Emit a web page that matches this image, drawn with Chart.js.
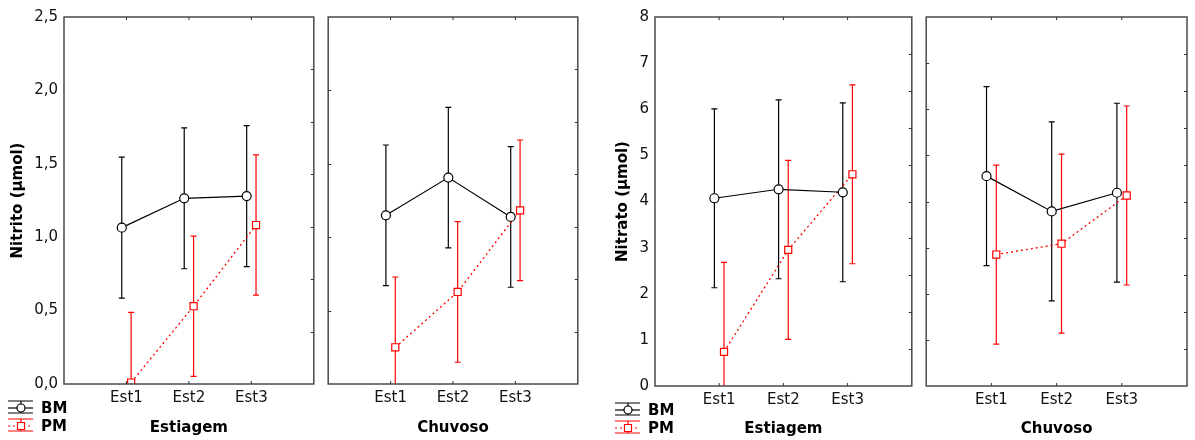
<!DOCTYPE html>
<html>
<head>
<meta charset="utf-8">
<script src="https://cdn.jsdelivr.net/npm/chart.js@4/dist/chart.umd.min.js"></script>
<style>
  body { margin: 0; background: #fff; }
  #wrap { position: relative; width: 1195px; height: 440px; overflow: hidden; }
  #wrap canvas { position: absolute; top: 0; }
</style>
</head>
<body>
<div id="wrap">
  <canvas id="p1" width="320" height="440" style="left:0px"></canvas>
  <canvas id="p2" width="262" height="440" style="left:322px"></canvas>
  <canvas id="p3" width="312" height="440" style="left:606px"></canvas>
  <canvas id="p4" width="275" height="440" style="left:920px"></canvas>
</div>
<script>
// categorias (estações de coleta)
const categories = ['Est1', 'Est2', 'Est3'];
const seriesNames = ['BM', 'PM'];

// Nitrito - médias e meia-largura do intervalo de confiança
const nitritoEstiagemBM = [1.065, 1.265, 1.28];
const nitritoEstiagemBMci = [0.48, 0.48, 0.48];
const nitritoEstiagemPM = [0.01, 0.53, 1.083];
const nitritoEstiagemPMci = [0.478, 0.478, 0.478];
const nitritoChuvosoBM = [1.149, 1.406, 1.138];
const nitritoChuvosoBMci = [0.479, 0.479, 0.479];
const nitritoChuvosoPM = [0.25, 0.627, 1.183];
const nitritoChuvosoPMci = [0.479, 0.479, 0.479];

// Nitrato
const nitratoEstiagemBM = [4.07, 4.265, 4.2];
const nitratoEstiagemBMci = [1.94, 1.94, 1.94];
const nitratoEstiagemPM = [0.74, 2.95, 4.59];
const nitratoEstiagemPMci = [1.94, 1.94, 1.94];
const nitratoChuvosoBM = [4.55, 3.785, 4.19];
const nitratoChuvosoBMci = [1.94, 1.94, 1.94];
const nitratoChuvosoPM = [2.85, 3.085, 4.13];
const nitratoChuvosoPMci = [1.94, 1.94, 1.94];

const FONT = 'DejaVu Sans, Verdana, sans-serif';
const BLACK = '#000000';
const RED = '#ff0000';
const SHIFT = 0.075; // deslocamento lateral de cada série

function toPoints(values, shift) {
  return values.map((v, i) => ({ x: i + 1 + shift, y: v }));
}

// barras de erro + moldura com ticks internos + legenda
const statPlugin = {
  id: 'stat',
  beforeDatasetsDraw(chart) {
    const { ctx, chartArea: a, scales: { x, y } } = chart;
    ctx.save();
    ctx.beginPath();
    ctx.rect(a.left, a.top, a.right - a.left, a.bottom - a.top);
    ctx.clip();
    chart.data.datasets.forEach(ds => {
      ctx.strokeStyle = ds.borderColor;
      ctx.lineWidth = 1.2;
      ds.data.forEach((p, i) => {
        const px = x.getPixelForValue(p.x);
        const top = y.getPixelForValue(p.y + ds.errors[i]);
        const bot = y.getPixelForValue(p.y - ds.errors[i]);
        ctx.beginPath();
        ctx.moveTo(px, top); ctx.lineTo(px, bot);
        ctx.moveTo(px - 3, top); ctx.lineTo(px + 3, top);
        ctx.moveTo(px - 3, bot); ctx.lineTo(px + 3, bot);
        ctx.stroke();
      });
    });
    ctx.restore();
  },
  afterDraw(chart, args, opts) {
    const { ctx, chartArea: a, scales: { x, y } } = chart;
    ctx.save();
    ctx.strokeStyle = '#4a4a4a';
    ctx.lineWidth = 1.5;
    ctx.strokeRect(a.left, a.top, a.right - a.left, a.bottom - a.top);

    ctx.lineWidth = 1;
    ctx.strokeStyle = '#333';
    ctx.beginPath();
    categories.forEach((c, i) => {
      const px = x.getPixelForValue(i + 1);
      ctx.moveTo(px, a.top); ctx.lineTo(px, a.top + 3);
      ctx.moveTo(px, a.bottom); ctx.lineTo(px, a.bottom - 3);
    });
    // ticks do lado direito
    const n = opts.rightTicks;
    for (let k = 1; k < n; k++) {
      const py = Math.round(y.getPixelForValue(y.min + k * (y.max - y.min) / n)) + 0.5;
      ctx.moveTo(a.right, py); ctx.lineTo(a.right - 3, py);
    }
    // ticks do lado esquerdo (painel sem rótulos)
    if (opts.leftTicks) {
      for (let v = y.min + opts.step; v < y.max - 1e-9; v += opts.step) {
        const py = Math.round(y.getPixelForValue(v)) + 0.5;
        ctx.moveTo(a.left, py); ctx.lineTo(a.left + 3, py);
      }
    }
    ctx.stroke();

    if (opts.legend) {
      const lx = opts.legend.x, ly = opts.legend.y;
      const items = [
        { name: seriesNames[0], color: BLACK, dash: [], cy: ly, shape: 'circle' },
        { name: seriesNames[1], color: RED, dash: [2, 3], cy: ly + 18, shape: 'square' }
      ];
      items.forEach(it => {
        const cx = lx + 13;
        ctx.strokeStyle = it.color;
        ctx.lineWidth = 1.2;
        ctx.setLineDash([]);
        ctx.beginPath();
        ctx.moveTo(lx, it.cy - 7); ctx.lineTo(lx + 25, it.cy - 7);
        ctx.moveTo(lx, it.cy + 5); ctx.lineTo(lx + 25, it.cy + 5);
        ctx.moveTo(cx, it.cy - 7); ctx.lineTo(cx, it.cy + 5);
        ctx.stroke();
        ctx.setLineDash(it.dash);
        ctx.beginPath();
        ctx.moveTo(lx, it.cy); ctx.lineTo(lx + 25, it.cy);
        ctx.stroke();
        ctx.setLineDash([]);
        ctx.fillStyle = '#fff';
        ctx.beginPath();
        if (it.shape === 'circle') ctx.arc(cx, it.cy, 4, 0, Math.PI * 2);
        else ctx.rect(cx - 3.5, it.cy - 3.5, 7, 7);
        ctx.fill(); ctx.stroke();
        ctx.fillStyle = '#000';
        ctx.font = 'bold 15px ' + FONT;
        ctx.textBaseline = 'middle';
        ctx.fillText(it.name, lx + 33, it.cy + 1);
      });
    }
    ctx.restore();
  }
};

function makePanel(id, cfg) {
  new Chart(document.getElementById(id), {
    type: 'scatter',
    data: {
      datasets: [
        {
          label: seriesNames[0],
          data: toPoints(cfg.bm, -SHIFT),
          errors: cfg.bmCi,
          showLine: true,
          borderColor: BLACK,
          borderWidth: 1.2,
          pointStyle: 'circle',
          pointRadius: 4.5,
          pointBackgroundColor: '#fff',
          pointBorderColor: BLACK,
          pointBorderWidth: 1.2
        },
        {
          label: seriesNames[1],
          data: toPoints(cfg.pm, SHIFT),
          errors: cfg.pmCi,
          showLine: true,
          borderColor: RED,
          borderWidth: 1.3,
          borderDash: [2, 3],
          pointStyle: 'rect',
          pointRadius: 5,
          pointBackgroundColor: '#fff',
          pointBorderColor: RED,
          pointBorderWidth: 1.2
        }
      ]
    },
    options: {
      responsive: false,
      animation: false,
      events: [],
      layout: { padding: cfg.padding },
      plugins: {
        legend: { display: false },
        tooltip: { enabled: false },
        stat: { rightTicks: cfg.rightTicks, leftTicks: !cfg.yTitle, step: cfg.step, legend: cfg.legend }
      },
      scales: {
        x: {
          type: 'linear',
          min: 0,
          max: 4,
          grid: { display: false, drawTicks: false },
          border: { display: false },
          ticks: {
            stepSize: 1,
            autoSkip: false,
            maxRotation: 0,
            padding: 5,
            color: '#111',
            font: { family: FONT, size: 15 },
            callback: v => categories[v - 1] || ''
          },
          title: {
            display: true,
            text: cfg.xTitle,
            color: '#000',
            font: { family: FONT, size: 15, weight: 'bold' },
            padding: { top: 0, bottom: cfg.xTitlePad }
          },
          afterFit: s => { s.height = cfg.xHeight; }
        },
        y: {
          display: !!cfg.yTitle,
          min: cfg.min,
          max: cfg.max,
          grid: { display: false, drawTicks: false },
          border: { display: false },
          ticks: {
            stepSize: cfg.step,
            padding: 6,
            color: '#111',
            font: { family: FONT, size: 15 },
            callback: cfg.fmt
          },
          title: {
            display: !!cfg.yTitle,
            text: cfg.yTitle,
            color: '#000',
            font: { family: FONT, size: 15, weight: 'bold' },
            padding: { top: cfg.yTitlePad, bottom: 0 }
          },
          afterFit: s => { if (cfg.yWidth) s.width = cfg.yWidth; }
        }
      }
    },
    plugins: [statPlugin]
  });
}

const fmtNitrito = v => v.toFixed(1).replace('.', ',');
const fmtNitrato = v => String(v);

makePanel('p1', {
  bm: nitritoEstiagemBM, bmCi: nitritoEstiagemBMci, pm: nitritoEstiagemPM, pmCi: nitritoEstiagemPMci,
  min: 0, max: 2.5, step: 0.5, fmt: fmtNitrito, rightTicks: 7,
  yTitle: 'Nitrito (µmol)', yTitlePad: 9, yWidth: 64,
  xTitle: 'Estiagem', xTitlePad: 3, xHeight: 56,
  padding: { left: 0, right: 2, top: 17, bottom: 0 },
  legend: { x: 8, y: 408 }
});
makePanel('p2', {
  bm: nitritoChuvosoBM, bmCi: nitritoChuvosoBMci, pm: nitritoChuvosoPM, pmCi: nitritoChuvosoPMci,
  min: 0, max: 2.5, step: 0.5, fmt: fmtNitrito, rightTicks: 7,
  xTitle: 'Chuvoso', xTitlePad: 3, xHeight: 56,
  padding: { left: 6, right: 2, top: 17, bottom: 0 }
});
makePanel('p3', {
  bm: nitratoEstiagemBM, bmCi: nitratoEstiagemBMci, pm: nitratoEstiagemPM, pmCi: nitratoEstiagemPMci,
  min: 0, max: 8, step: 1, fmt: fmtNitrato, rightTicks: 10,
  yTitle: 'Nitrato (µmol)', yTitlePad: 8, yWidth: 49,
  xTitle: 'Estiagem', xTitlePad: 2, xHeight: 54,
  padding: { left: 0, right: 2, top: 17, bottom: 0 },
  legend: { x: 9, y: 410 }
});
makePanel('p4', {
  bm: nitratoChuvosoBM, bmCi: nitratoChuvosoBMci, pm: nitratoChuvosoPM, pmCi: nitratoChuvosoPMci,
  min: 0, max: 8, step: 1, fmt: fmtNitrato, rightTicks: 10,
  xTitle: 'Chuvoso', xTitlePad: 2, xHeight: 54,
  padding: { left: 6, right: 8, top: 17, bottom: 0 }
});
</script>
</body>
</html>
